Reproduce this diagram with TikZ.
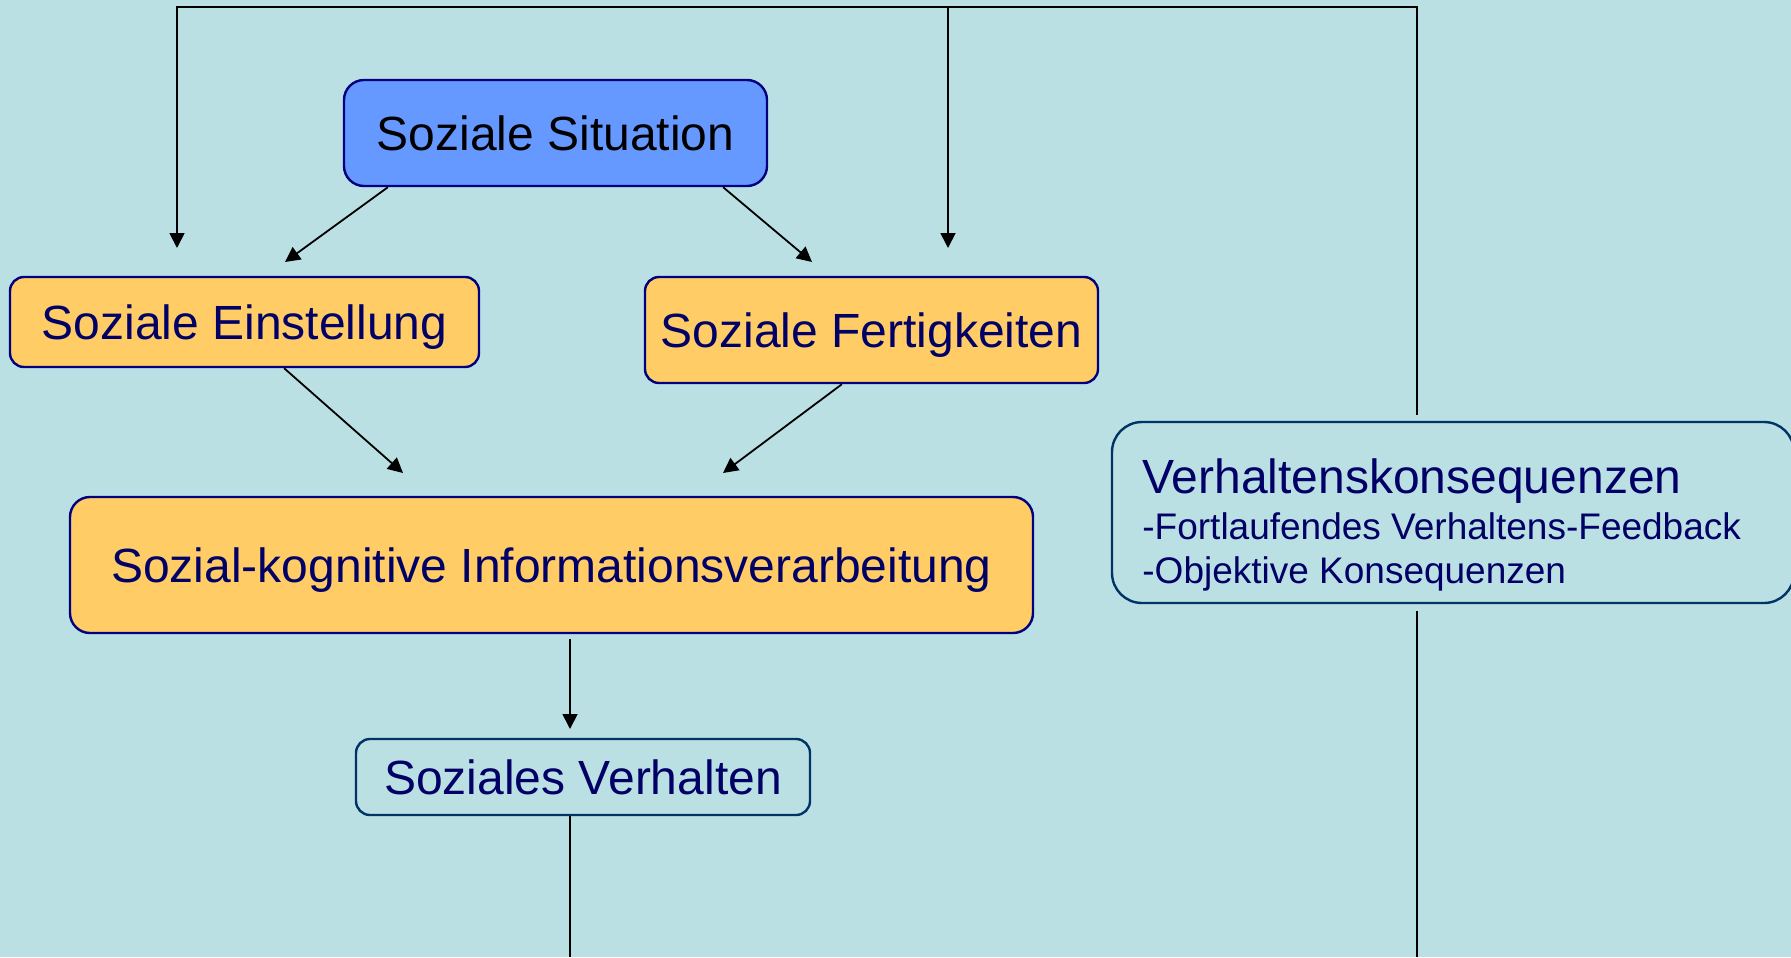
\documentclass[tikz,border=0pt]{standalone}
\usepackage{fontspec}
\setmainfont{Liberation Sans}
\usetikzlibrary{arrows.meta,calc}
\definecolor{bg}{RGB}{187,224,227}
\definecolor{orng}{RGB}{255,204,102}
\definecolor{blu}{RGB}{102,153,255}
\definecolor{navytext}{RGB}{0,0,102}
\definecolor{navyline}{RGB}{0,0,128}
\definecolor{darkline}{RGB}{0,51,102}
\begin{document}
\begin{tikzpicture}[x=0.5pt,y=-0.5pt,
  box/.style={draw=navyline, line width=1.2pt, inner sep=0pt, text height=17.2pt, text depth=0pt,
    font=\fontsize{24}{28}\selectfont, text=navytext},
  orangebox/.style={box, fill=orng, rounded corners=7pt},
  conn/.style={line width=0.9pt, draw=black},
  arr/.style={conn, -{Triangle[length=7.5pt,width=7.5pt]}},
  bigtxt/.style={anchor=base west, inner sep=0pt, font=\fontsize{24}{28}\selectfont, text=navytext},
  smalltxt/.style={anchor=base west, inner sep=0pt, font=\fontsize{18.5}{22}\selectfont, text=navytext}]
\fill[bg] (0,0) rectangle (1791,957);
\useasboundingbox (0,0) rectangle (1791,957);

% nodes
\node[box, fill=blu, text=black, rounded corners=10pt, minimum width=211.5pt, minimum height=53pt] (sit) at (555.5,133) {Soziale Situation};
\node[orangebox, minimum width=234.5pt, minimum height=45pt] (ein) at (244.5,322) {Soziale Einstellung};
\node[orangebox, minimum width=226.5pt, minimum height=53pt] (fert) at (871.5,330) {Soziale Fertigkeiten};
\node[box, fill=orng, rounded corners=10pt, minimum width=481.5pt, minimum height=68pt] (sk) at (551.5,565) {Sozial-kognitive Informationsverarbeitung};
\node[box, draw=darkline, rounded corners=7pt, minimum width=227pt, minimum height=38pt] (sv) at (583,777) {Soziales Verhalten};
\node[box, draw=darkline, rounded corners=15pt, minimum width=341pt, minimum height=90.5pt] (vk) at (1453,512.5) {};
\node[bigtxt] (vk1) at (1142,493) {Verhaltenskonsequenzen};
\node[smalltxt] (vk2) at (1142,539) {-Fortlaufendes Verhaltens-Feedback};
\node[smalltxt] (vk3) at (1142,583) {-Objektive Konsequenzen};

% free ends
\coordinate (tipL) at (177,248);
\coordinate (tipM) at (948,248);
\coordinate (topM) at (948,7);
\coordinate (topR) at (1417,7);
\coordinate (vkTop) at (1417,415);
\coordinate (vkBot) at (1417,611);
\coordinate (botR) at (1417,957);
\coordinate (botM) at (570,957);
\coordinate (skBot) at (570,639);
\coordinate (svTip) at (570,729);
\coordinate (einTip) at (285,262);
\coordinate (fertTip) at (812,262);
\coordinate (skTipL) at (403,473);
\coordinate (skTipR) at (723,473);

% connectors
\draw[arr] ($(sit.south west)!0.106!(sit.south east)$) -- (einTip);
\draw[arr] ($(sit.south west)!0.894!(sit.south east)$) -- (fertTip);
\draw[arr] ($(ein.south west)!0.584!(ein.south east)$) -- (skTipL);
\draw[arr] ($(fert.south west)!0.435!(fert.south east)$) -- (skTipR);
\draw[arr] (skBot) -- (svTip);
\draw[conn] (sv.south -| botM) -- (botM);
\draw[conn] (vkBot) -- (botR);
\draw[arr] (vkTop) -- (topR) -| (tipL);
\draw[arr] (topM) -- (tipM);
\end{tikzpicture}
\end{document}
